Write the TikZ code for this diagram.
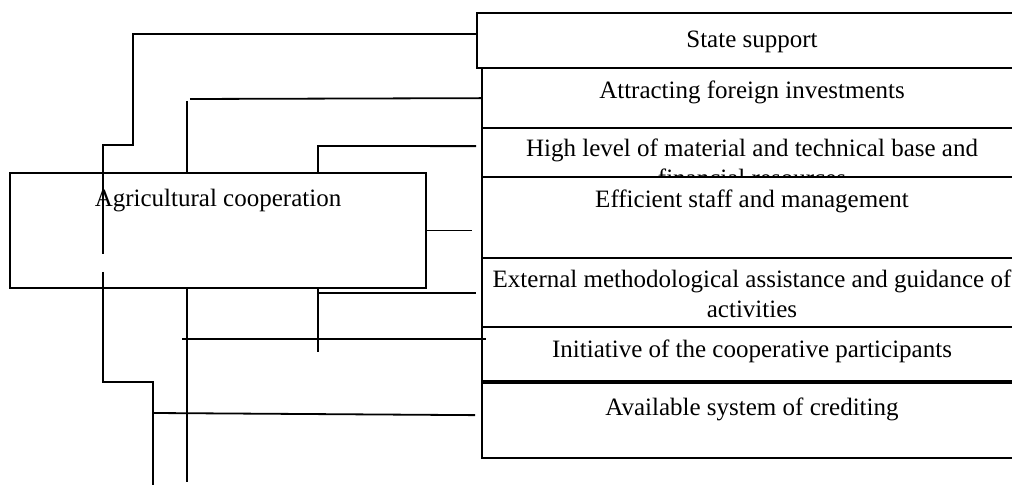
\documentclass[tikz,border=0pt]{standalone}
\usepackage{fontspec}
\setmainfont{Liberation Serif}
\usetikzlibrary{fit}
\begin{document}
\begin{tikzpicture}[x=0.5pt,y=-0.5pt,
  frame/.style={draw, fill=white, inner sep=0pt, line width=0.85pt},
  txt/.style={anchor=base, inner sep=0pt, align=center,
              font=\fontsize{12.5}{14.8}\selectfont},
  wire/.style={line width=0.9pt}]
\path[use as bounding box] (0,0) rectangle (1012,485);
\clip (0,0) rectangle (1012,485);

% central block
\node[frame, line width=0.9pt, fit={(10,173)(426,288)}] (coop) {};
\node[txt] (coopT) at (218,207) {Agricultural cooperation};

% column of factors (two-line labels are placed by their last baseline)
\node[frame, fit={(477,13)(1030,68)}] (b1) {};
\node[txt] (t1) at (752,48) {State support};
\node[frame, fit={(482,68)(1030,128)}] (b2) {};
\node[txt] (t2) at (752,99) {Attracting foreign investments};
\node[frame, fit={(482,128)(1030,177)}] (b3) {};
\node[txt] (t3) at (752,186.6) {High level of material and technical base and\\financial resources};
\node[frame, fit={(482,177)(1030,258)}] (b4) {};
\node[txt] (t4) at (752,208) {Efficient staff and management};
\node[frame, fit={(482,258)(1030,327)}] (b5) {};
\node[txt] (t5) at (752,317.6) {External methodological assistance and guidance of\\activities};
\node[frame, fit={(482,327)(1030,381)}] (b6) {};
\node[txt] (t6) at (752,358) {Initiative of the cooperative participants};
\node[frame, fit={(482,383)(1030,458)}] (b7) {};
\node[txt] (t7) at (752,416) {Available system of crediting};

% bend points and loose ends
\coordinate (s1a) at (133,145);
\coordinate (s1b) at (103,254);
\coordinate (s1c) at (103,272);
\coordinate (s1d) at (153,382);
\coordinate (s1e) at (153,485);
\coordinate (s7a) at (153,413);
\coordinate (s2a) at (190,99);
\coordinate (s2b) at (187,101);
\coordinate (s2c) at (187,482);
\coordinate (s3a) at (318,146);
\coordinate (s5a) at (318,352);
\coordinate (s5b) at (318,293);
\coordinate (s6a) at (182,339);

% connectors
\draw[wire] (b1.north west) ++(0,22) -| (s1a) -| (s1b);
\draw[wire] (s1c) |- (s1d) -- (s1e);
\draw[wire] (b7.north west) ++(-6,33) -- (s7a);
\draw[wire] (b2.north west) ++(0,31) -- (s2a);
\draw[wire] (s2b) -- (s2b |- coop.north);
\draw[wire] (s2b |- coop.south) -- (s2c);
\draw[wire] (b3.north west) ++(-5,19) -- (s3a) -- (s3a |- coop.north);
\draw[wire] (coop.east) -- ++(45,0);
\draw[wire] (s3a |- coop.south) -- (s5a);
\draw[wire] (s5b) -- ++(158,0);
\draw[wire] (s6a) -- ++(304,0);
\end{tikzpicture}
\end{document}
